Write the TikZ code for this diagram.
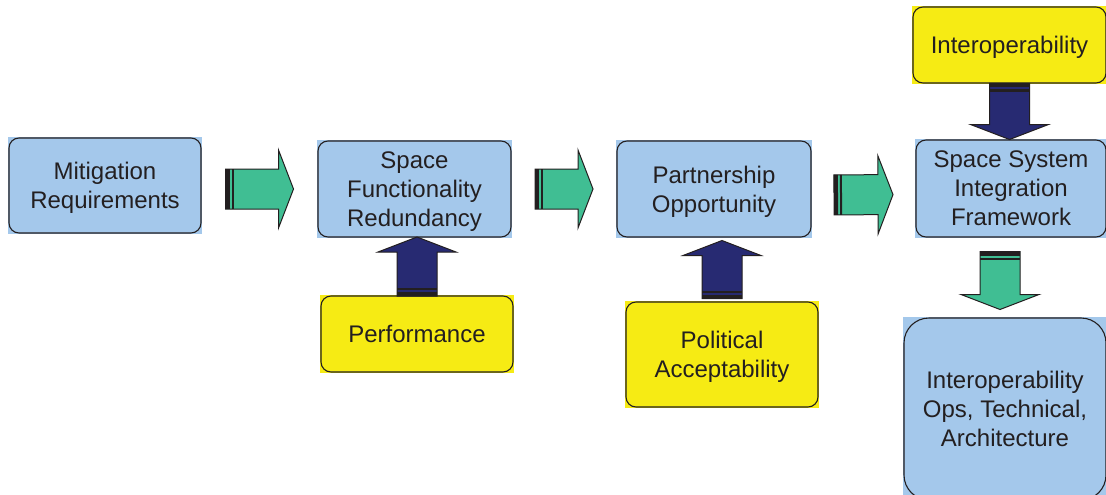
\documentclass[tikz,border=0pt]{standalone}
\usepackage{fontspec}
\setmainfont{Liberation Sans}
\usetikzlibrary{calc,backgrounds}

\definecolor{boxblue}{HTML}{A4C8EB}
\definecolor{boxyellow}{HTML}{F6EB14}
\definecolor{arrgreen}{HTML}{40BE93}
\definecolor{arrnavy}{HTML}{272A72}
\definecolor{edge}{HTML}{231F20}

\tikzset{
  blk/.style={draw=edge, line width=1.1pt, rounded corners=10pt, align=center,
    inner sep=0pt, text=edge, text depth=0pt, font=\fontsize{24}{29}\selectfont},
  % block arrow along +x, #1 = length, #2 = fill
  pics/blkarrow/.style 2 args={code={
    \pgfmathsetmacro\ha{#1/2}
    \pgfmathsetmacro\hb{#1/2-15}
    \filldraw[fill=#2, draw=edge, line width=1pt, line join=miter]
      (-\ha,-20) -- (\hb,-20) -- (\hb,-39) -- (\ha,0) -- (\hb,39) -- (\hb,20) -- (-\ha,20) -- cycle;
    \fill[edge] (-\ha,-20) rectangle ++(4,40);
    \fill[edge] (-\ha+6,-20) rectangle ++(2,40);
  }}
}

\begin{document}
\begin{tikzpicture}[x=1pt, y=-1pt]
\useasboundingbox (0,0) rectangle (1106,495);
% main chain
\node[blk, minimum width=192, minimum height=95] (mit) at (105,185.5) {Mitigation\\Requirements};
\node[blk, minimum width=193, minimum height=96] (spf) at (414.5,189) {Space\\Functionality\\Redundancy};
\node[blk, minimum width=194, minimum height=96] (pso) at (714,189) {Partnership\\Opportunity};
\node[blk, minimum width=190, minimum height=97] (ssif) at (1011,188.5) {Space System\\Integration\\Framework};
% drivers
\node[blk, minimum width=193, minimum height=76] (interop) at (1009.5,45) {Interoperability};
\node[blk, minimum width=192, minimum height=76] (perf) at (417,334) {Performance};
\node[blk, minimum width=192, minimum height=105] (pol) at (722,354.5) {Political\\Acceptability};
\node[blk, rounded corners=25pt, minimum width=202, minimum height=182] (iotc) at (1005,409) {Interoperability\\Ops, Technical,\\Architecture};

\begin{scope}[on background layer]
\foreach \n/\c in {mit/boxblue, spf/boxblue, pso/boxblue, ssif/boxblue, iotc/boxblue,
    interop/boxyellow, perf/boxyellow, pol/boxyellow}
  \fill[\c] (\n.north west) rectangle (\n.south east);
\end{scope}

% block arrows
\path (spf.west -| mit.east) -- (spf.west) pic[pos=.5, sloped, allow upside down] {blkarrow={68}{arrgreen}};
\path (spf.east) -- (pso.west) pic[pos=.5, sloped, allow upside down] {blkarrow={58}{arrgreen}};
\path ($(pso.east)+(0,6)$) -- ($(ssif.west)+(0,6)$) pic[pos=.5, sloped, allow upside down] {blkarrow={59}{arrgreen}};
\path (perf.north) -- (perf.north |- spf.south) pic[pos=.5, sloped, allow upside down] {blkarrow={59}{arrnavy}};
\path (pol.north) -- (pol.north |- pso.south) pic[pos=.5, sloped, allow upside down] {blkarrow={58}{arrnavy}};
\path (interop.south) -- (interop.south |- ssif.north) pic[pos=.5, sloped, allow upside down] {blkarrow={56}{arrnavy}};
\coordinate (gd) at ($(iotc.north)+(-5,3)$);
\path ($(gd |- ssif.south)+(0,3)$) -- (gd) pic[pos=.5, sloped, allow upside down] {blkarrow={58}{arrgreen}};
\end{tikzpicture}
\end{document}
